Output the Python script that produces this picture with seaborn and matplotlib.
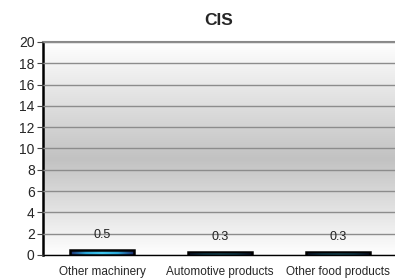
import numpy as np
import pandas as pd
import matplotlib
matplotlib.use('Agg')
import matplotlib.pyplot as plt
import seaborn as sns
from matplotlib.colors import LinearSegmentedColormap

categories = ['Other machinery', 'Automotive products', 'Other food products']
values = [0.5, 0.3, 0.3]
value_labels = ['0.5', '0.3', '0.3']
yticks = list(range(0, 21, 2))

sns.set_style('white')
plt.rcParams['font.family'] = ['Liberation Sans Narrow', 'Liberation Sans', 'DejaVu Sans']

df = pd.DataFrame({'category': categories, 'value': values})

fig = plt.figure(figsize=(3.95, 2.78), dpi=100)
ax = fig.add_axes([0.109, 0.083, 0.897, 0.766])

sns.barplot(data=df, x='category', y='value', ax=ax, width=0.54,
            color='#1a3a8a', edgecolor='black', linewidth=1.8, zorder=3)

ax.set_ylim(0, 20)
ax.set_xlim(-0.5, 2.5)

# background gradient: white at top and bottom, grey in the middle
bg = LinearSegmentedColormap.from_list('bg', [(0, '#ffffff'), (0.45, '#c2c2c2'), (1, '#ffffff')])
grad = np.linspace(0, 1, 256).reshape(-1, 1)
ax.imshow(grad, cmap=bg, aspect='auto', extent=(-0.5, 2.5, 0, 20), origin='lower', zorder=0)

# bar fill: dark navy edges, cyan centre
barc = LinearSegmentedColormap.from_list('bar', ['#1b2a6b', '#2aa7d8', '#40c8f0', '#2aa7d8', '#1b2a6b'])
hgrad = np.linspace(0, 1, 256).reshape(1, -1)
for p in ax.patches:
    x0, y0 = p.get_x(), p.get_y()
    im = ax.imshow(hgrad, cmap=barc, aspect='auto',
                   extent=(x0, x0 + p.get_width(), y0, y0 + p.get_height()), zorder=3)
    im.set_clip_path(p)
    p.set_facecolor('none')
    p.set_zorder(4)

for i, (v, lab) in enumerate(zip(values, value_labels)):
    ax.annotate(lab, (i, v), xytext=(0, 6), textcoords='offset points',
                ha='center', va='bottom', fontsize=9, color='#222222', zorder=5)

ax.set_yticks(yticks)
ax.yaxis.grid(True, color='#8c8c8c', linewidth=1)
ax.set_axisbelow(False)
for line in ax.get_ygridlines():
    line.set_zorder(1)
ax.set_xticks([0, 1, 2])
ax.set_xticks([-0.5, 0.5, 1.5, 2.5], minor=True)
ax.tick_params(axis='x', which='major', length=0, labelsize=8.5, pad=8)
ax.tick_params(axis='x', which='minor', length=4, color='#888888', direction='out')
ax.tick_params(axis='y', length=4, labelsize=10, color='#444444', direction='out', pad=2, left=True)
ax.set_xlabel('')
ax.set_ylabel('')

ax.spines['left'].set_color('black')
ax.spines['left'].set_linewidth(1.8)
ax.spines['bottom'].set_color('black')
ax.spines['bottom'].set_linewidth(1)
ax.spines['top'].set_visible(True)
ax.spines['top'].set_color('#888888')
ax.spines['top'].set_linewidth(1.5)
ax.spines['right'].set_visible(False)

fig.text(0.553, 0.927, 'CIS', ha='center', va='center', fontsize=12.5, fontweight='bold',
         family=['Liberation Sans', 'DejaVu Sans'])

fig.savefig('out.png', dpi=100)
